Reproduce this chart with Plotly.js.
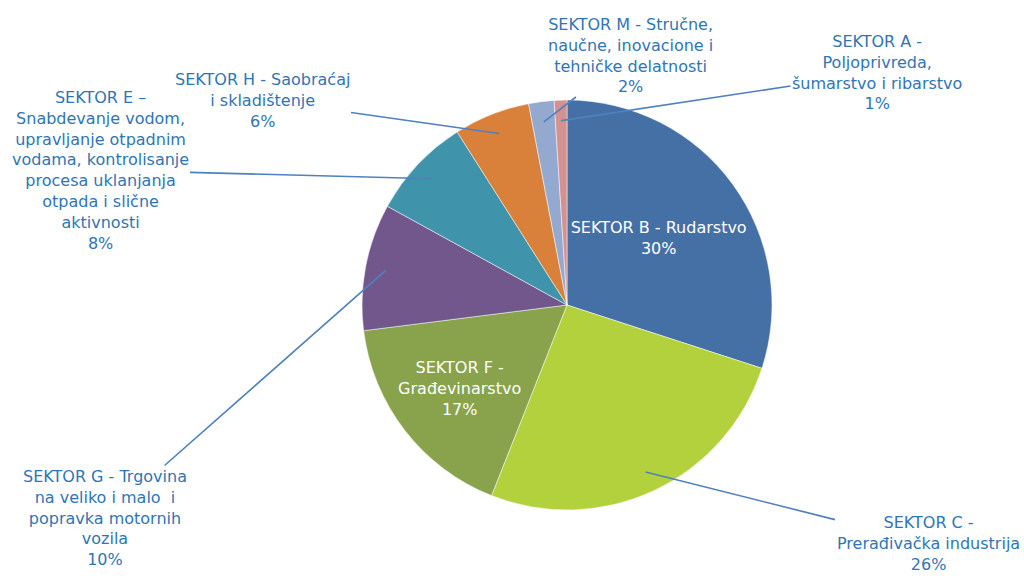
<!DOCTYPE html>
<html><head><meta charset="utf-8">
<script src="https://cdn.plot.ly/plotly-3.0.1.min.js"></script>
<style>html,body{margin:0;padding:0;background:#fff}</style></head>
<body><div id="chart" style="width:1024px;height:576px"></div>
<script>
// Data (clockwise from 12 o'clock)
const sectors = [
  'SEKTOR B - Rudarstvo',
  'SEKTOR C -<br>Prerađivačka industrija',
  'SEKTOR F -<br>Građevinarstvo',
  'SEKTOR G - Trgovina<br>na veliko i malo  i<br>popravka motornih<br>vozila',
  'SEKTOR E –<br>Snabdevanje vodom,<br>upravljanje otpadnim<br>vodama, kontrolisanje<br>procesa uklanjanja<br>otpada i slične<br>aktivnosti',
  'SEKTOR H - Saobraćaj<br>i skladištenje',
  'SEKTOR M - Stručne,<br>naučne, inovacione i<br>tehničke delatnosti',
  'SEKTOR A -<br>Poljoprivreda,<br>šumarstvo i ribarstvo'
];
const values = [30, 26, 17, 10, 8, 6, 2, 1];
const colors = ['#4570A6', '#B3D13D', '#88A34B', '#71578C', '#3F93AB', '#D9803B', '#93A9D0', '#D49190'];
const insideText = [true, false, true, false, false, false, false, false];
// outside label text centres in pixels (layout only)
const labelCentres = [null, [928, 543], null, [105, 518], [100, 170], [262, 100], [630, 55], [877, 73]];

const W = 1024, H = 576, CX = 567, CY = 305, R = 205;
const dom = {
  x: [(CX - R) / W, (CX + R) / W],
  y: [1 - (CY + R) / H, 1 - (CY - R) / H]
};
const textColor = '#2F75B5';
const font = 'DejaVu Sans, Verdana, sans-serif';

const trace = {
  type: 'pie',
  labels: sectors,
  values: values,
  sort: false,
  direction: 'clockwise',
  rotation: 0,
  domain: dom,
  marker: {colors: colors, line: {color: '#ffffff', width: 0.5}},
  textposition: insideText.map(v => v ? 'inside' : 'none'),
  insidetextorientation: 'horizontal',
  texttemplate: '%{label}<br>%{percent:.0%}',
  textfont: {family: font, size: 16, color: '#ffffff'},
  hoverinfo: 'label+percent',
  showlegend: false
};

const total = values.reduce((a, b) => a + b, 0);
const annotations = [];
let cum = 0;
values.forEach((v, i) => {
  const mid = (cum + v / 2) / total * 2 * Math.PI;
  cum += v;
  if (!labelCentres[i]) return;
  const rr = R * 0.9;
  const tx = CX + rr * Math.sin(mid), ty = CY - rr * Math.cos(mid);
  const [lx, ly] = labelCentres[i];
  annotations.push({
    x: tx / W, y: 1 - ty / H, xref: 'paper', yref: 'paper',
    ax: lx - tx, ay: ly - ty, axref: 'pixel', ayref: 'pixel',
    showarrow: true, arrowhead: 0, arrowwidth: 1.6, arrowcolor: '#4F81BD', standoff: 0,
    text: sectors[i] + '<br>' + Math.round(v / total * 100) + '%',
    font: {family: font, size: 16, color: textColor},
    align: 'center'
  });
});

const layout = {
  width: W, height: H,
  margin: {l: 0, r: 0, t: 0, b: 0},
  paper_bgcolor: '#ffffff',
  annotations: annotations,
  showlegend: false
};
Plotly.newPlot('chart', [trace], layout, {displayModeBar: false, staticPlot: true});
</script></body></html>
